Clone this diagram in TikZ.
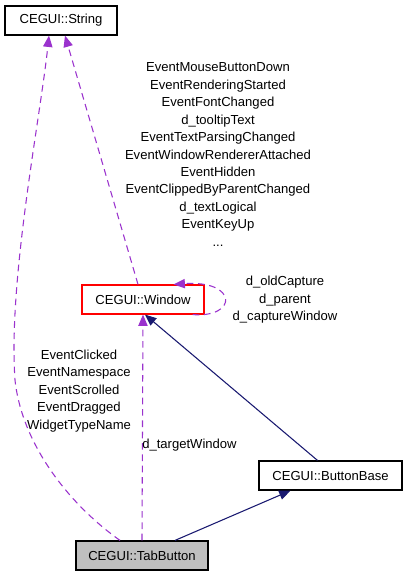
\documentclass[tikz,border=0pt]{standalone}
\usepackage{fontspec}
\setmainfont{Liberation Sans}
\usetikzlibrary{arrows.meta,calc}
\definecolor{usecol}{HTML}{9A32CD}
\definecolor{inhcol}{HTML}{191970}
\tikzset{
    cls/.style={draw, line width=0.9pt, minimum height=21.75pt, inner sep=0pt},
    usedge/.style={usecol, line width=0.8pt, dash pattern=on 5pt off 3.5pt, -{Triangle[length=8.5pt,width=7pt]}},
    inhedge/.style={inhcol, line width=0.8pt, -{Triangle[length=8.5pt,width=7pt]}},
    lbl/.style={align=center, inner sep=0pt}
}
\begin{document}
\begin{tikzpicture}[x=0.75pt, y=-0.75pt, font=\fontsize{9.8}{13.1}\selectfont]
    \useasboundingbox (0,0) rectangle (408,576);
    % Klassen
    \node[cls, minimum width=84pt] (str) at (61,20.5) {CEGUI::String};
    \node[cls, draw=red, minimum width=91.5pt] (win) at (143,299.5) {CEGUI::Window};
    \node[cls, minimum width=107.25pt] (bb) at (330.5,475.5) {CEGUI::ButtonBase};
    \node[cls, fill=black!25, minimum width=99pt] (tab) at (142,555.5) {CEGUI::TabButton};
    % Benutzung (gestrichelt)
    \draw[usedge] ($(tab.north)+(-22,0)$) .. controls (70,505) and (22,445) .. (15,380)
        .. controls (8,280) and (40,120) .. ($(str.south)+(-12,0)$);
    \draw[usedge] ($(win.north)+(-5,0)$) -- ($(str.south)+(4,0)$);
    \draw[usedge] ($(win.south east)+(-12,0)$) .. controls (238,318) and (238,280) .. ($(win.north east)+(-31,0)$);
    \draw[usedge] (tab.north) -- (win.south);
    % Vererbung
    \draw[inhedge] ($(bb.north)+(-13,0)$) -- ($(win.south)+(2,0)$);
    \draw[inhedge] ($(tab.north)+(33,0)$) -- ($(bb.south)+(-40,0)$);
    % Beschriftungen
    \node[lbl] (lwin) at (218,154.5) {EventMouseButtonDown\\EventRenderingStarted\\EventFontChanged\\d\_tooltipText\\EventTextParsingChanged\\EventWindowRendererAttached\\EventHidden\\EventClippedByParentChanged\\d\_textLogical\\EventKeyUp\\...};
    \node[lbl] (lself) at (285,300) {d\_oldCapture\\d\_parent\\d\_captureWindow};
    \node[lbl] (ltab) at (79,391) {EventClicked\\EventNamespace\\EventScrolled\\EventDragged\\WidgetTypeName};
    \node[lbl, anchor=west] (ltarget) at (142,445) {d\_targetWindow};
\end{tikzpicture}
\end{document}
